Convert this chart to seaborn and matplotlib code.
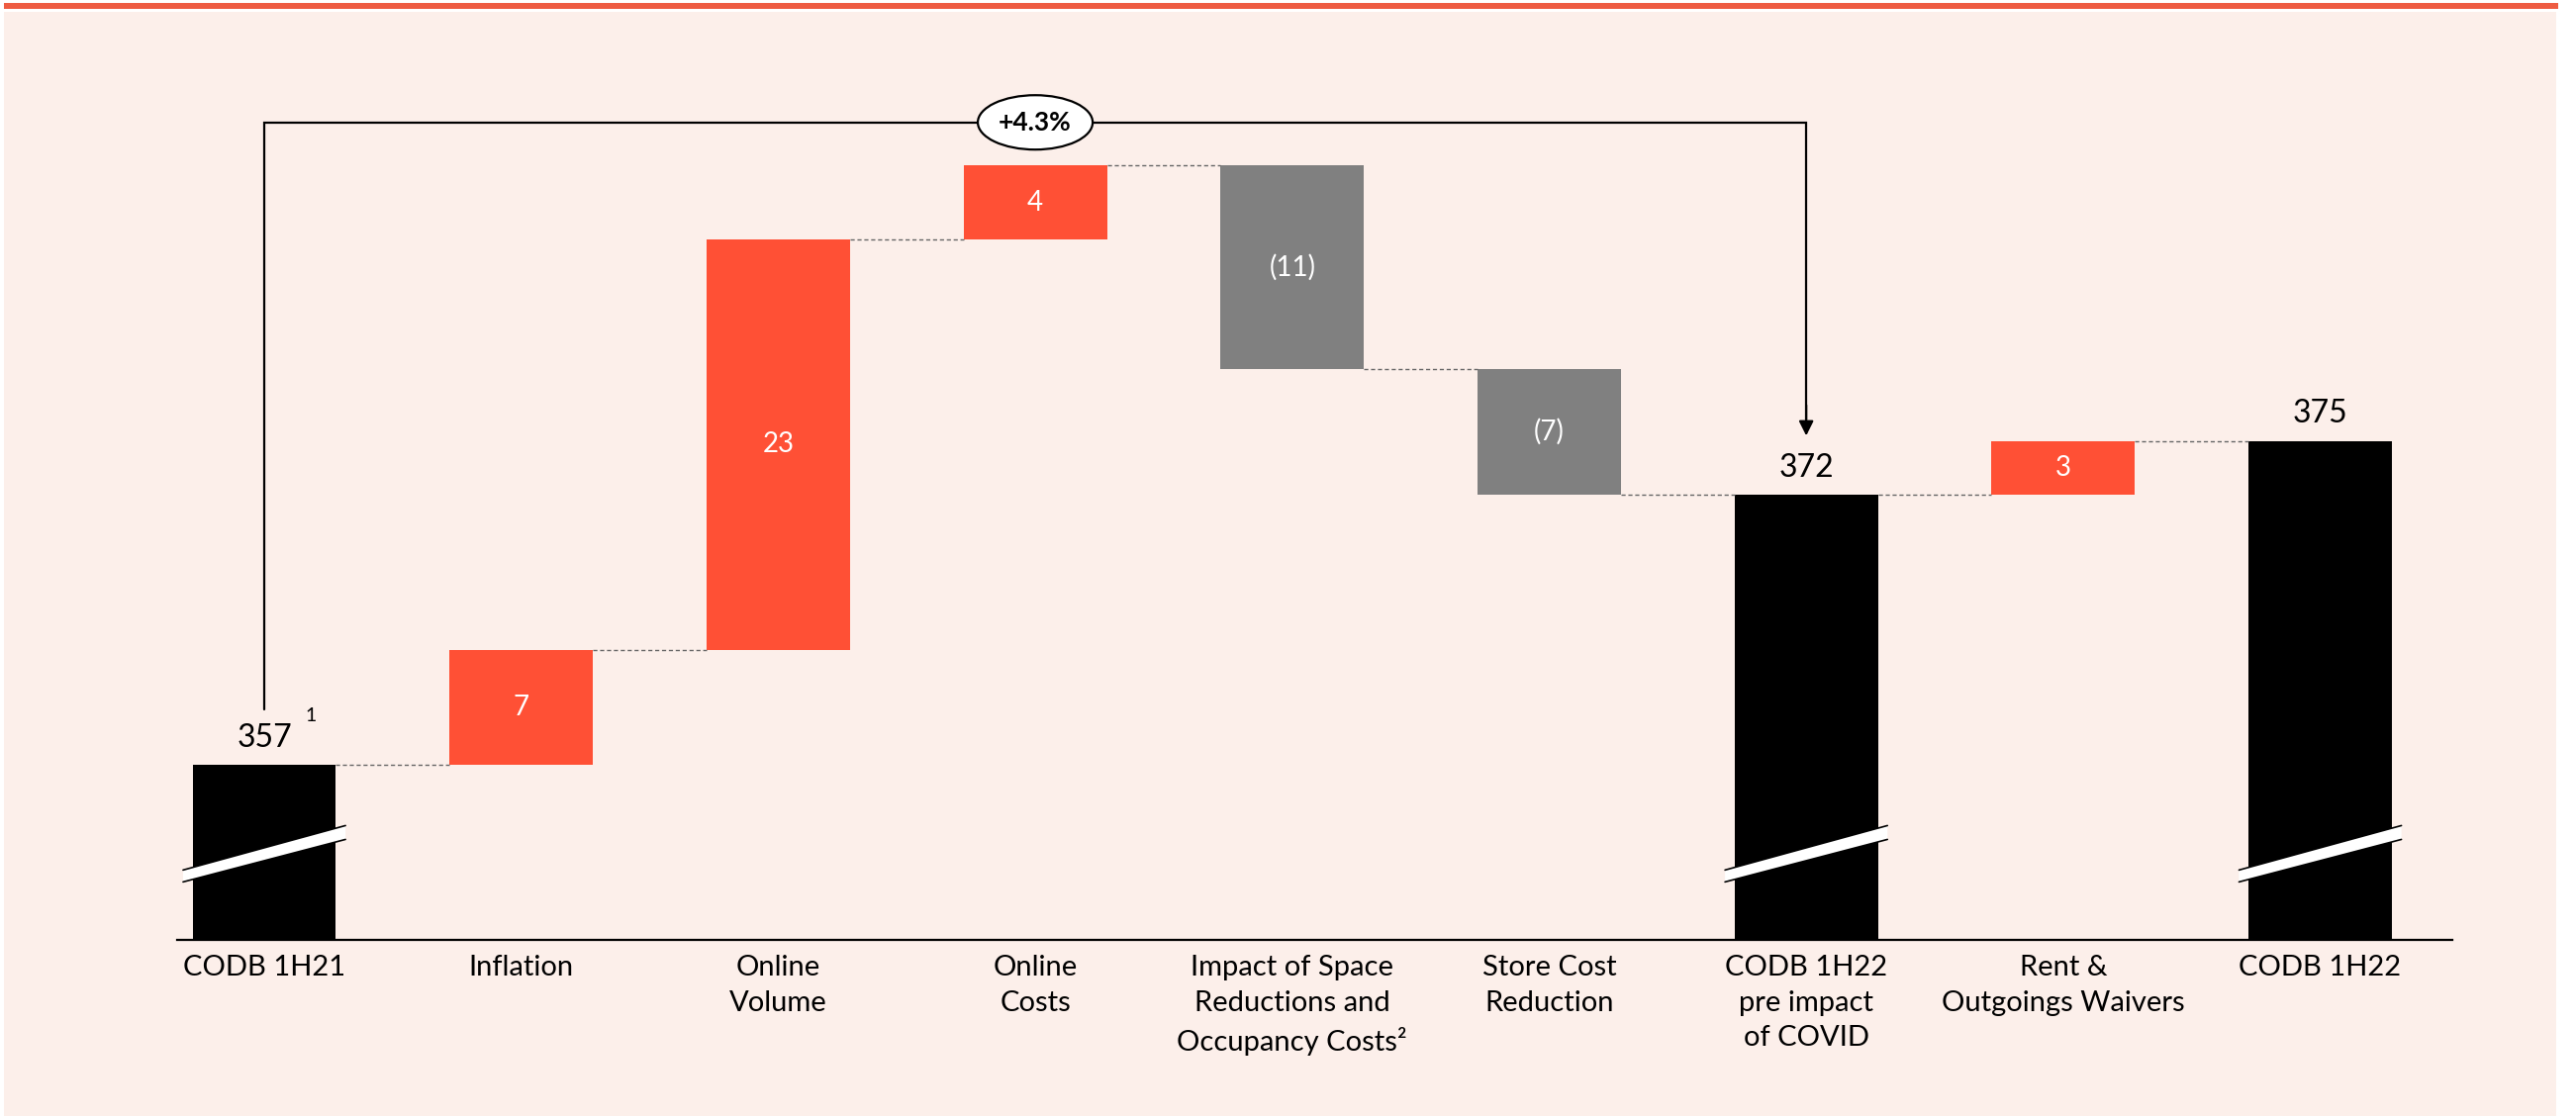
import numpy as np
import matplotlib.pyplot as plt
import seaborn as sns
from matplotlib.patches import Ellipse, Rectangle

# Waterfall data (labels are the printed numbers)
categories = ["CODB 1H21", "Inflation", "Online Volume", "Online Costs",
              "Space Reductions", "Store Cost Reduction",
              "CODB 1H22 pre COVID", "Rent Waivers", "CODB 1H22"]
tick_labels = ["CODB 1H21", "Inflation", "Online\nVolume", "Online\nCosts",
               "Impact of Space\nReductions and\nOccupancy Costs\u00b2",
               "Store Cost\nReduction", "CODB 1H22\npre impact\nof COVID",
               "Rent &\nOutgoings Waivers", "CODB 1H22"]
values = [357, 6.4, 22.8, 4.1, -11.3, -7.0, 372, 3.0, 375]
kinds = ["total", "up", "up", "up", "down", "down", "total", "up", "total"]
value_labels = ["357", "7", "23", "4", "(11)", "(7)", "372", "3", "375"]
change_label = "+4.3%"

BG = "#FCEFEA"
RED = "#FF5035"
GREY = "#808080"
kind_colors = {"total": "black", "up": RED, "down": GREY}

sns.set_theme(style="white")
plt.rcParams["font.family"] = ["Lato", "DejaVu Sans"]

# running totals -> bar bottoms / heights
bottoms, heights, levels = [], [], []
run = 0.0
for v, k in zip(values, kinds):
    if k == "total":
        bottoms.append(0.0)
        heights.append(v)
        run = v
    elif k == "up":
        bottoms.append(run)
        heights.append(v)
        run += v
    else:
        bottoms.append(run + v)
        heights.append(-v)
        run += v
    levels.append(run)

fig = plt.figure(figsize=(26.03, 11.29), dpi=100)
fig.patch.set_facecolor("white")
fig.add_artist(Rectangle((4 / 2603, 1 / 1129), 2579 / 2603, 1116 / 1129,
                         transform=fig.transFigure, facecolor=BG,
                         edgecolor="none", zorder=0))
fig.add_artist(Rectangle((4 / 2603, 1 - 9 / 1129), 2581 / 2603, 6 / 1129,
                         transform=fig.transFigure, facecolor="#EE5C42",
                         edgecolor="none", zorder=0))

ax = fig.add_axes([179 / 2603, 179 / 1129, 2299 / 2603, 890 / 1129])
ax.set_facecolor("none")

bar_w = 0.558
sns.barplot(x=categories, y=heights, order=categories, bottom=bottoms,
            width=bar_w, color="black", linewidth=0, ax=ax)
for patch, k in zip(ax.patches, kinds):
    patch.set_facecolor(kind_colors[k])
    patch.set_edgecolor("none")

ax.set_xlim(-0.339, 8.514)
ax.set_ylim(347.3, 396.2)

# dashed connectors
for i in range(len(values) - 1):
    ax.plot([i + bar_w / 2, i + 1 - bar_w / 2], [levels[i], levels[i]],
            color="#666666", lw=1.0, ls=(0, (3, 2)), zorder=1)

# value labels
for i, (k, lab) in enumerate(zip(kinds, value_labels)):
    if k == "total":
        ax.annotate(lab, (i, values[i]), xytext=(0, 9), textcoords="offset points",
                    ha="center", va="bottom", fontsize=23, color="black")
    else:
        ax.text(i, bottoms[i] + heights[i] / 2, lab, ha="center", va="center",
                fontsize=20, color="white")
ax.text(0.181, 359.75, "1", ha="center", va="center", fontsize=14, color="black")

# axis break marks on the total bars
for i, k in enumerate(kinds):
    if k != "total":
        continue
    xl, xr = i - 0.316, i + 0.316
    ax.fill([xl, xl, xr, xr], [350.52, 351.18, 353.65, 352.88],
            color="white", zorder=3, lw=0)
    ax.plot([xl, xr], [351.18, 353.65], color="black", lw=1.2, zorder=4)
    ax.plot([xl, xr], [350.52, 352.88], color="black", lw=1.2, zorder=4)

# change bracket
y_br = 392.7
ax.plot([0, 0, 6, 6], [360.1, y_br, y_br, 376.2], color="black", lw=1.6,
        zorder=2, solid_joinstyle="miter", clip_on=False)
ax.annotate("", xy=(6, 375.3), xytext=(6, 377.0),
            arrowprops=dict(arrowstyle="-|>", color="black", lw=1.6,
                            mutation_scale=22, shrinkA=0, shrinkB=0))
ax.add_patch(Ellipse((3.0, y_br), 0.447, 3.02, facecolor="white",
                     edgecolor="black", lw=1.6, zorder=5))
ax.text(3.0, y_br, change_label, ha="center", va="center", fontsize=19,
        fontweight="bold", color="black", zorder=6)

# axes styling
ax.set_xticks(range(len(categories)))
ax.set_xticklabels(tick_labels, fontsize=21, color="black")
for t in ax.get_xticklabels():
    t.set_linespacing(1.45)
    t.set_verticalalignment("top")
ax.tick_params(axis="x", length=0, pad=11)
ax.set_yticks([])
ax.set_xlabel("")
ax.set_ylabel("")
for s in ["left", "top", "right"]:
    ax.spines[s].set_visible(False)
ax.spines["bottom"].set_color("black")
ax.spines["bottom"].set_linewidth(1.6)

fig.savefig("out.png", dpi=100, facecolor="white")
